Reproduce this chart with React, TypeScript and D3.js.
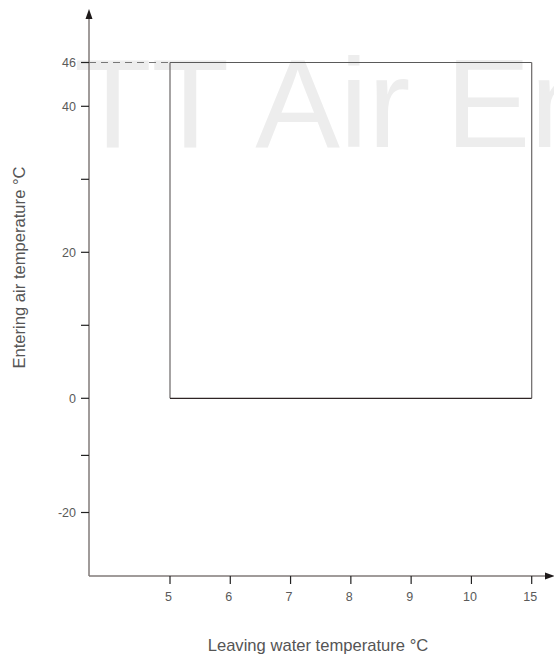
import React from "react";
import * as d3 from "d3";

const xCategories = ["5", "6", "7", "8", "9", "10", "15"];
const yTickValues = [46, 40, 30, 20, 10, 0, -10, -20];
const yLabeledTicks = [46, 40, 20, 0, -20];
const envelopeX = ["5", "15"];
const envelopeY = [0, 46];
const dashedLevel = 46;

const W = 554;
const H = 657;
const axisX = 89;
const axisY = 576;

export default function App() {
  const x = d3.scalePoint<string>().domain(xCategories).range([170, 531.7]);
  const y = d3
    .scaleLinear()
    .domain([-20, 0, 46])
    .range([512.5, 398.3, 62.5]);

  const x0 = x(envelopeX[0])!;
  const x1 = x(envelopeX[1])!;
  const yTop = y(envelopeY[1]);
  const yBot = y(envelopeY[0]);
  const font = "'Liberation Sans', Arial, sans-serif";

  return (
    <svg
      width={W}
      height={H}
      style={{ position: "absolute", left: 0, top: 0, background: "#fff" }}
      fontFamily={font}
    >
      <defs>
        <clipPath id="clipAll">
          <rect x={0} y={0} width={W} height={H} />
        </clipPath>
      </defs>
      {/* watermark */}
      <g clipPath="url(#clipAll)">
        <text x={74} y={147} fontSize={127} fill="#ededed">
          TT Air Energy
        </text>
      </g>

      {/* envelope */}
      <line x1={axisX} x2={x0} y1={y(dashedLevel)} y2={y(dashedLevel)} stroke="#777" strokeWidth={1.2} strokeDasharray="7,5" />
      <line x1={x0} x2={x1} y1={yTop} y2={yTop} stroke="#5a5a5a" strokeWidth={1.2} />
      <line x1={x0} x2={x0} y1={yTop} y2={yBot} stroke="#6a6666" strokeWidth={1.2} />
      <line x1={x1} x2={x1} y1={yTop} y2={yBot} stroke="#6a6666" strokeWidth={1.2} />
      <line x1={x0} x2={x1} y1={yBot} y2={yBot} stroke="#2e2424" strokeWidth={1.2} />

      {/* y axis */}
      <line x1={axisX} x2={axisX} y1={axisY} y2={18} stroke="#807a78" strokeWidth={1.5} />
      <path d={`M${axisX - 3.5},${19} L${axisX},${9} L${axisX + 3.5},${19} Z`} fill="#1e1a1a" />
      {yTickValues.map((v) => (
        <g key={"yt" + v}>
          <line x1={axisX - 8} x2={axisX} y1={y(v)} y2={y(v)} stroke="#222" strokeWidth={1.2} />
          {yLabeledTicks.includes(v) && (
            <text x={76} y={y(v)} dy="0.35em" textAnchor="end" fontSize={12.5} fill="#5a5a5a">
              {v}
            </text>
          )}
        </g>
      ))}

      {/* x axis */}
      <line x1={axisX} x2={546} y1={axisY} y2={axisY} stroke="#807a78" strokeWidth={1.5} />
      <path d={`M${545},${axisY - 3.5} L${555},${axisY} L${545},${axisY + 3.5} Z`} fill="#1e1a1a" />
      {xCategories.map((c) => (
        <g key={"xt" + c}>
          <line x1={x(c)} x2={x(c)} y1={axisY} y2={axisY + 8} stroke="#222" strokeWidth={1.2} />
          <text x={x(c)! - 1.5} y={axisY + 21} dy="0.35em" textAnchor="middle" fontSize={12.5} fill="#5a5a5a">
            {c}
          </text>
        </g>
      ))}

      {/* titles */}
      <text x={318} y={651} textAnchor="middle" fontSize={16.6} fill="#555">
        Leaving water temperature °C
      </text>
      <text
        transform={`translate(25,267.5) rotate(-90)`}
        textAnchor="middle"
        fontSize={16.6}
        fill="#555"
      >
        Entering air temperature °C
      </text>
    </svg>
  );
}
